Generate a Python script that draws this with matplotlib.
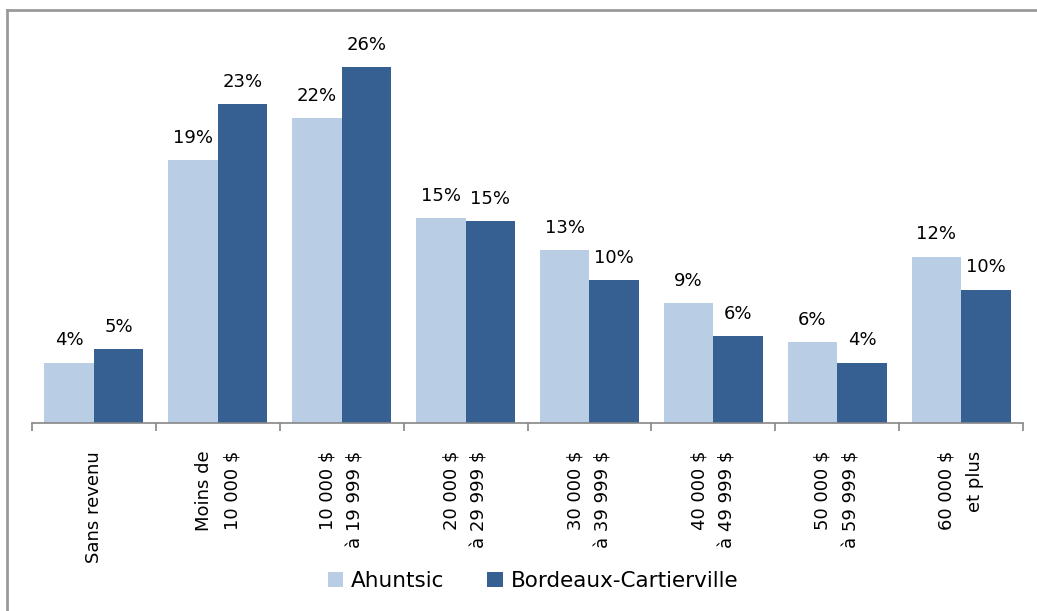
import matplotlib
matplotlib.use("Agg")
import matplotlib.pyplot as plt
import numpy as np
from matplotlib.lines import Line2D
from matplotlib.patches import Patch

plt.rcParams['font.family'] = ['DejaVu Sans']

categories = ["Sans revenu", "Moins de\n10 000 $", "10 000 $\nà 19 999 $", "20 000 $\nà 29 999 $",
              "30 000 $\nà 39 999 $", "40 000 $\nà 49 999 $", "50 000 $\nà 59 999 $", "60 000 $\net plus"]
series_names = ["Ahuntsic", "Bordeaux-Cartierville"]
ahuntsic = [4.4, 19.1, 22.2, 14.9, 12.6, 8.7, 5.9, 12.1]
bordeaux = [5.4, 23.2, 25.9, 14.7, 10.4, 6.3, 4.4, 9.7]

c_light = "#B9CDE5"
c_dark = "#376092"

W, H = 1037, 611
fig = plt.figure(figsize=(W/100, H/100), dpi=100)
ax = fig.add_axes([32/W, 1-423/H, (1023-32)/W, 385/H])

x = np.arange(len(categories))
bw = 0.4
b1 = ax.bar(x - bw/2, ahuntsic, bw, color=c_light, edgecolor='none')
b2 = ax.bar(x + bw/2, bordeaux, bw, color=c_dark, edgecolor='none')

for bars, vals in ((b1, ahuntsic), (b2, bordeaux)):
    for r, v in zip(bars, vals):
        ax.annotate(f"{v:.0f}%", (r.get_x() + r.get_width()/2, r.get_height()),
                    xytext=(0, 9.5), textcoords='offset points', ha='center', va='bottom',
                    fontsize=13, color='black')

ax.set_xlim(-0.5, len(categories) - 0.5)
ax.set_ylim(0, 28)
for s in ['top', 'right', 'left']:
    ax.spines[s].set_visible(False)
ax.spines['bottom'].set_color('#868686')
ax.spines['bottom'].set_linewidth(1.2)
ax.set_yticks([])
ax.set_xticks(np.arange(len(categories) + 1) - 0.5, minor=False)
ax.set_xticklabels([])
ax.tick_params(axis='x', which='major', length=6, color='#868686', width=1.2, direction='out')
ax.set_xticks(x, minor=True)
ax.set_xticklabels(categories, minor=True, rotation=90, fontsize=13, va='top', ha='center',
                   multialignment='right', linespacing=1.75)
ax.tick_params(axis='x', which='minor', length=0, pad=20)

handles = [Patch(facecolor=c_light, edgecolor='none'), Patch(facecolor=c_dark, edgecolor='none')]
fig.legend(handles, series_names, loc='center', bbox_to_anchor=(533/W, 1-581/H), ncol=2,
           frameon=False, fontsize=15.5, handlelength=0.72, handleheight=0.72, handletextpad=0.35,
           columnspacing=2.0)

# outer frame
fig.add_artist(Line2D([7/W, 1.0], [1-10/H, 1-10/H], color='#9a9a9a', lw=2, transform=fig.transFigure))
fig.add_artist(Line2D([7/W, 7/W], [1-10/H, 0], color='#9a9a9a', lw=2, transform=fig.transFigure))

fig.savefig("out.png", dpi=100)
